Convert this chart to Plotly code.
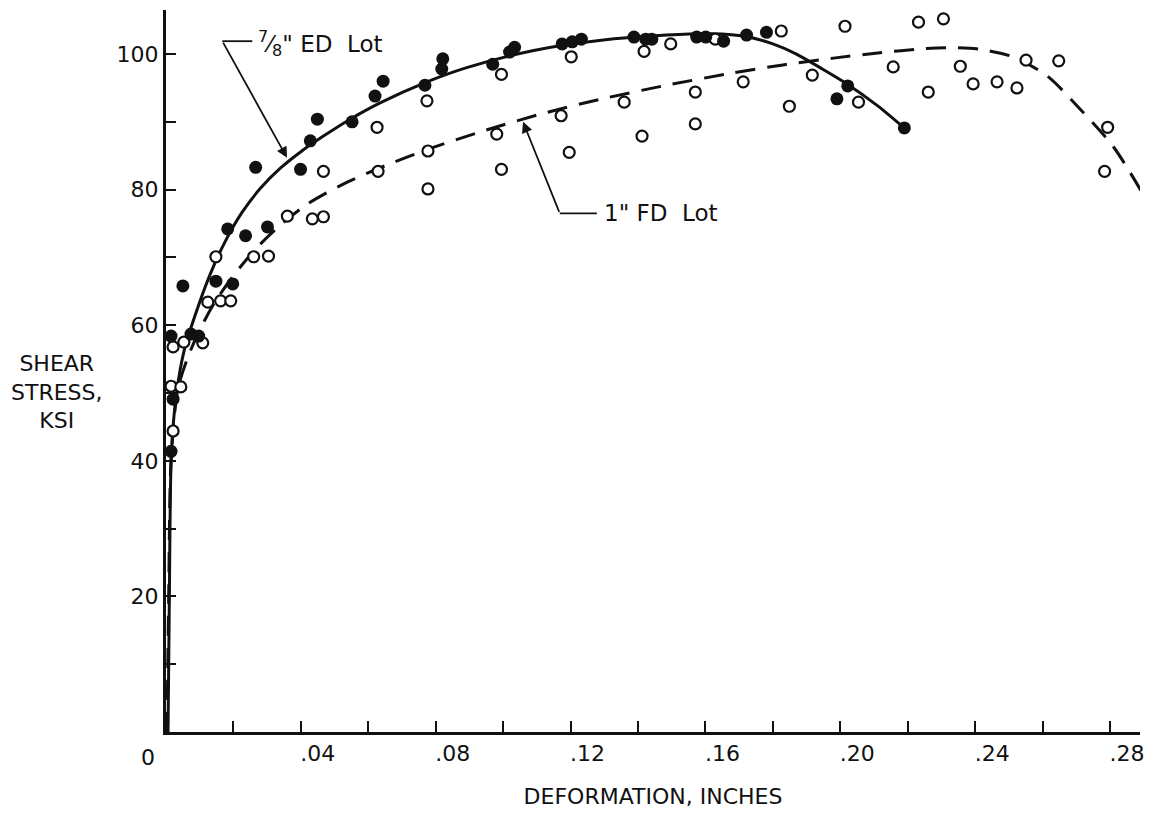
import plotly.graph_objects as go

# ---- data ----
ed_x = [0.0015, 0.0021, 0.0015, 0.0050, 0.0074, 0.0097, 0.0148, 0.0183, 0.0198, 0.0236,
        0.0266, 0.0301, 0.0399, 0.0428, 0.0449, 0.0552, 0.0620, 0.0644, 0.0768, 0.0818,
        0.0821, 0.0969, 0.1019, 0.1034, 0.1175, 0.1205, 0.1232, 0.1388, 0.1423, 0.1441,
        0.1574, 0.1601, 0.1654, 0.1722, 0.1781, 0.1990, 0.2022, 0.2190]
ed_y = [41.4, 49.1, 58.4, 65.8, 58.7, 58.4, 66.5, 74.2, 66.1, 73.2,
        83.3, 74.5, 83.0, 87.2, 90.4, 90.0, 93.8, 96.0, 95.4, 97.8,
        99.3, 98.5, 100.3, 101.0, 101.5, 101.8, 102.2, 102.5, 102.2, 102.2,
        102.5, 102.5, 101.9, 102.8, 103.2, 93.4, 95.3, 89.1]

fd_x = [0.0021, 0.0015, 0.0044, 0.0021, 0.0053, 0.0109, 0.0124, 0.0162, 0.0192, 0.0148,
        0.0260, 0.0304, 0.0360, 0.0434, 0.0467, 0.0467, 0.0629, 0.0626, 0.0774, 0.0777,
        0.0777, 0.0981, 0.0995, 0.0995, 0.1172, 0.1196, 0.1202, 0.1359, 0.1412, 0.1418,
        0.1497, 0.1570, 0.1570, 0.1629, 0.1712, 0.1825, 0.1849, 0.1917, 0.2014, 0.2054,
        0.2157, 0.2232, 0.2261, 0.2306, 0.2356, 0.2394, 0.2465, 0.2524, 0.2551, 0.2648,
        0.2784, 0.2793, 0.2923]
fd_y = [44.4, 51.0, 50.9, 56.8, 57.5, 57.4, 63.4, 63.6, 63.6, 70.1,
        70.1, 70.2, 76.1, 75.7, 76.0, 82.7, 82.7, 89.2, 93.1, 85.7,
        80.1, 88.2, 83.0, 97.0, 90.9, 85.5, 99.6, 92.9, 87.9, 100.4,
        101.5, 94.4, 89.7, 102.2, 95.9, 103.4, 92.3, 96.9, 104.1, 92.9,
        98.1, 104.7, 94.4, 105.2, 98.2, 95.6, 95.9, 95.0, 99.1, 99.0,
        82.7, 89.2, 83.5]

ed_curve_x = [0.0006, 0.0010, 0.0016, 0.0030, 0.0055, 0.0090, 0.0130, 0.0175, 0.0225, 0.0280,
              0.0340, 0.0400, 0.0467, 0.0550, 0.0635, 0.0774, 0.0892, 0.1087, 0.1285, 0.1485,
              0.1620, 0.1720, 0.1800, 0.1870, 0.1940, 0.2020, 0.2110, 0.2190]
ed_curve_y = [0, 20.0, 41.0, 49.5, 56.5, 62.0, 67.4, 72.3, 76.6, 80.2,
              83.2, 85.6, 87.9, 90.5, 92.8, 95.9, 98.0, 100.5, 102.0, 102.8,
              103.0, 102.6, 101.5, 100.0, 98.0, 95.6, 92.4, 89.1]

fd_curve_x = [0.0003, 0.0008, 0.0015, 0.0035, 0.0065, 0.0103, 0.0145, 0.0200, 0.0265, 0.0340,
              0.0420, 0.0517, 0.0629, 0.0774, 0.0950, 0.1130, 0.1285, 0.1485, 0.1680, 0.1830,
              0.1980, 0.2118, 0.2250, 0.2330, 0.2415, 0.2512, 0.2613, 0.2711, 0.2809, 0.2895]
fd_curve_y = [0, 20.0, 40.0, 50.5, 55.3, 59.6, 63.4, 67.3, 71.2, 74.8,
              77.9, 80.6, 83.1, 85.9, 88.8, 91.4, 93.3, 95.4, 97.2, 98.4,
              99.4, 100.2, 100.8, 100.95, 100.7, 99.6, 96.8, 91.9, 86.4, 79.6]

x_tickvals = [0, 0.02, 0.04, 0.06, 0.08, 0.10, 0.12, 0.14, 0.16, 0.18, 0.20, 0.22, 0.24, 0.26, 0.28]
x_ticktext = ["", "", ".04", "", ".08", "", ".12", "", ".16", "", ".20", "", ".24", "", ".28"]
y_tickvals = [10, 20, 30, 40, 50, 60, 70, 80, 90, 100]
y_ticktext = ["", "20", "", "40", "", "60", "", "80", "", "100"]

ed_label = "<sup>7</sup>⁄<sub>8</sub>\" ED  Lot"
fd_label = "1\" FD  Lot"

FONT = "DejaVu Sans"
BLACK = "#111111"

fig = go.Figure()

fig.add_trace(go.Scatter(x=fd_curve_x, y=fd_curve_y, mode="lines",
                         line=dict(color=BLACK, width=3, dash="20px,12px", shape="spline", smoothing=0.8),
                         hoverinfo="skip", showlegend=False))
fig.add_trace(go.Scatter(x=ed_curve_x, y=ed_curve_y, mode="lines",
                         line=dict(color=BLACK, width=3, shape="spline", smoothing=0.8),
                         hoverinfo="skip", showlegend=False))
fig.add_trace(go.Scatter(x=fd_x, y=fd_y, mode="markers", cliponaxis=False,
                         marker=dict(symbol="circle", size=11, color="white",
                                     line=dict(color=BLACK, width=2.2)),
                         name="1\" FD Lot", showlegend=False))
fig.add_trace(go.Scatter(x=ed_x, y=ed_y, mode="markers", cliponaxis=False,
                         marker=dict(symbol="circle", size=13, color=BLACK,
                                     line=dict(color=BLACK, width=0)),
                         name="7/8\" ED Lot", showlegend=False))

# leader lines
fig.add_shape(type="line", x0=0.0167, y0=101.9, x1=0.0256, y1=101.9,
              line=dict(color=BLACK, width=1.8))
fig.add_shape(type="line", x0=0.1168, y0=76.5, x1=0.1278, y1=76.5,
              line=dict(color=BLACK, width=1.8))
fig.add_annotation(x=0.0359, y=84.7, ax=0.0167, ay=101.9, axref="x", ayref="y",
                   text="", showarrow=True, arrowhead=2, arrowsize=1.2, arrowwidth=1.8,
                   arrowcolor=BLACK)
fig.add_annotation(x=0.1059, y=90.0, ax=0.1168, ay=76.5, axref="x", ayref="y",
                   text="", showarrow=True, arrowhead=2, arrowsize=1.2, arrowwidth=1.8,
                   arrowcolor=BLACK)

fig.add_annotation(x=0.0266, y=101.6, text=ed_label, showarrow=False, xanchor="left",
                   yanchor="middle", font=dict(family=FONT, size=23, color=BLACK))
fig.add_annotation(x=0.1294, y=76.6, text=fd_label, showarrow=False, xanchor="left",
                   yanchor="middle", font=dict(family=FONT, size=23, color=BLACK))

# corner zero and axis titles
fig.add_annotation(xref="paper", yref="paper", x=0, y=0, text="0", showarrow=False,
                   xanchor="center", yanchor="middle", xshift=-18, yshift=-25,
                   font=dict(family=FONT, size=22, color=BLACK))
fig.add_annotation(xref="paper", yref="paper", x=-0.112, y=0.471,
                   text="SHEAR<br>STRESS,<br>KSI", showarrow=False, align="center",
                   xanchor="center", yanchor="middle",
                   font=dict(family=FONT, size=22, color=BLACK))

fig.update_layout(
    width=1161, height=827,
    margin=dict(l=166, r=21, t=10, b=95),
    paper_bgcolor="white", plot_bgcolor="white",
    font=dict(family=FONT, size=22, color=BLACK),
    xaxis=dict(range=[0, 0.2889], tickvals=x_tickvals, ticktext=x_ticktext,
               ticks="inside", ticklen=11, tickwidth=1.5, tickcolor=BLACK,
               showline=True, linecolor=BLACK, linewidth=2.5, showgrid=False,
               zeroline=False, ticklabelstandoff=0, ticklabelshift=17,
               tickfont=dict(family=FONT, size=22, color=BLACK),
               title=dict(text="DEFORMATION, INCHES", standoff=24,
                          font=dict(family=FONT, size=22, color=BLACK))),
    yaxis=dict(range=[0, 106.5], tickvals=y_tickvals, ticktext=y_ticktext,
               ticks="inside", ticklen=10, tickwidth=1.5, tickcolor=BLACK,
               showline=True, linecolor=BLACK, linewidth=3, showgrid=False,
               zeroline=False, ticklabelstandoff=0,
               tickfont=dict(family=FONT, size=22, color=BLACK)),
)

fig.write_html("out.html")
